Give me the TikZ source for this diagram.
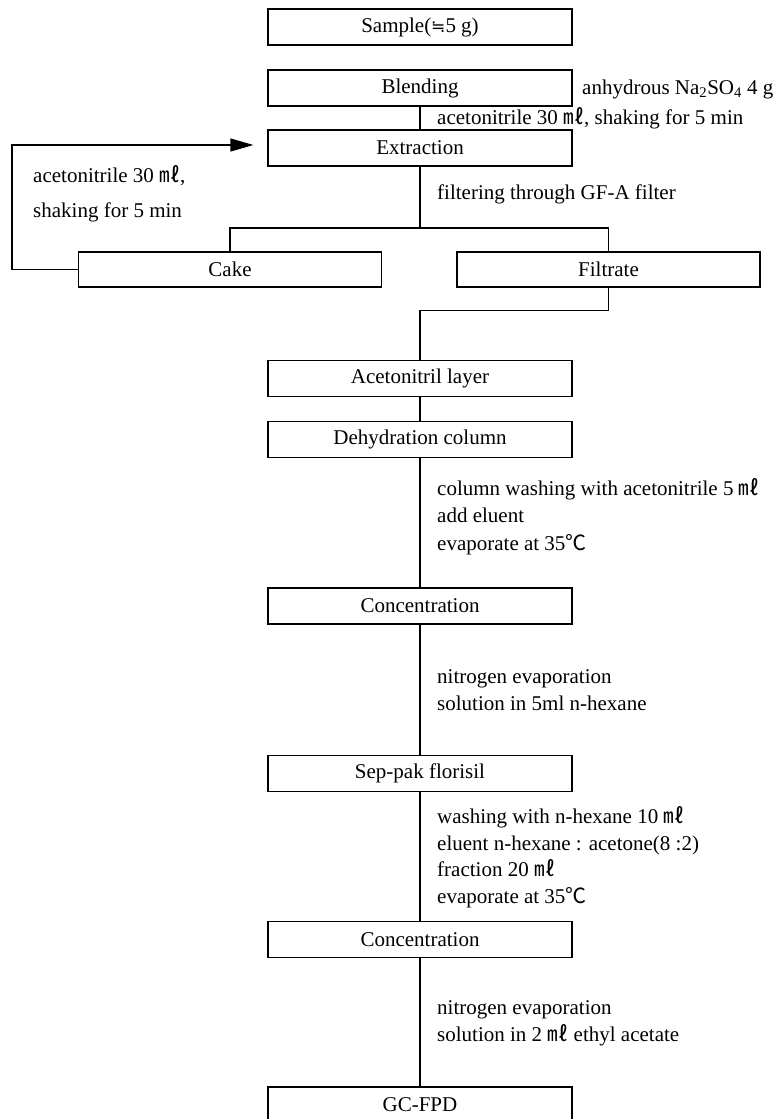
\documentclass[tikz,border=0pt]{standalone}
\usepackage{fontspec}
\setmainfont{Liberation Serif}
\newfontfamily\cjk{Noto Sans CJK KR}
\newfontfamily\symfont{DejaVu Sans}
\usetikzlibrary{arrows.meta}
\newcommand{\ml}{{\cjk ㎖}}
\newcommand{\degC}{{\cjk ℃}}
\begin{document}
\begin{tikzpicture}[x=1pt,y=-1pt,
  every node/.style={font=\fontsize{21}{25}\selectfont},
  procbox/.style={draw,line width=1.2pt,minimum width=304pt,minimum height=36pt,inner sep=0pt},
  lbl/.style={anchor=base west,inner sep=0pt},
  conn/.style={line width=1.2pt}]
\useasboundingbox (0,0) rectangle (778,1119);
% boxes
\node[procbox] (sample) at (420,27) {Sample({\symfont\fontsize{17}{20}\selectfont ≒}5 g)};
\node[procbox] (blend) at (420,88) {Blending};
\node[procbox] (extr) at (420,148) {Extraction};
\node[procbox,minimum width=303pt,minimum height=35pt] (cake) at (230,269.5) {Cake};
\node[procbox,minimum width=303pt,minimum height=35pt] (filt) at (608.5,269.5) {Filtrate};
\node[procbox] (acet) at (420,378.5) {Acetonitril layer};
\node[procbox] (dehyd) at (420,439.5) {Dehydration column};
\node[procbox] (conc1) at (420,606) {Concentration};
\node[procbox] (sep) at (420,773.5) {Sep-pak florisil};
\node[procbox] (conc2) at (420,939.5) {Concentration};
\node[procbox] (gc) at (420,1105) {GC-FPD};
% split point
\coordinate (sp) at (420,228);
% connectors
\draw[conn] (blend.south) -- (extr.north);
\draw[conn] (extr.south) -- (sp);
\draw[conn] (cake.north) |- (sp) -| (filt.north);
\draw[conn] (filt.south) -- ++(0,23) -| (acet.north);
\draw[conn] (acet.south) -- (dehyd.north);
\draw[conn] (dehyd.south) -- (conc1.north);
\draw[conn] (conc1.south) -- (sep.north);
\draw[conn] (sep.south) -- (conc2.north);
\draw[conn] (conc2.south) -- (gc.north);
\draw[conn,-{Triangle[length=23pt,width=13pt]}] (cake.west) -- ++(-66,0) |- ([xshift=-14pt,yshift=3pt]extr.west);
% labels
\node[lbl] (t1) at (582,94) {anhydrous Na\textsubscript{2}SO\textsubscript{4} 4 g};
\node[lbl] (t2) at (437,124) {acetonitrile 30 \ml, shaking for 5 min};
\node[lbl] (t3) at (437,199) {filtering through GF-A filter};
\node[lbl] (t4) at (33,182) {acetonitrile 30 \ml,};
\node[lbl] (t5) at (33,217) {shaking for 5 min};
\node[lbl] (t6) at (437,495) {column washing with acetonitrile 5 \ml};
\node[lbl] (t7) at (437,522) {add eluent};
\node[lbl] (t8) at (437,550) {evaporate at 35\degC};
\node[lbl] (t9) at (437,683) {nitrogen evaporation};
\node[lbl] (t10) at (437,710) {solution in 5ml n-hexane};
\node[lbl] (t11) at (437,823) {washing with n-hexane 10 \ml};
\node[lbl] (t12) at (437,850) {eluent n-hexane : acetone(8 :2)};
\node[lbl] (t13) at (437,876) {fraction 20 \ml};
\node[lbl] (t14) at (437,903) {evaporate at 35\degC};
\node[lbl] (t15) at (437,1014) {nitrogen evaporation};
\node[lbl] (t16) at (437,1041) {solution in 2 \ml\ ethyl acetate};
\end{tikzpicture}
\end{document}
